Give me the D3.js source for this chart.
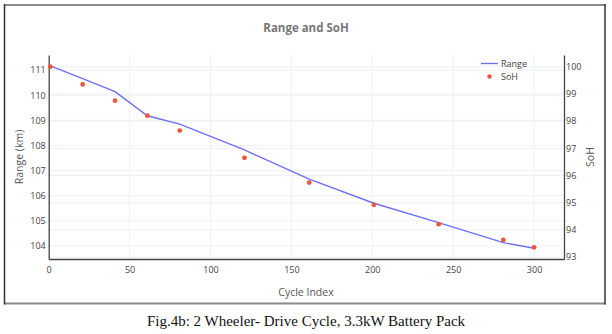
<!DOCTYPE html>
<html>
<head>
<meta charset="utf-8">
<script src="https://cdn.jsdelivr.net/npm/d3@7"></script>
<style>
  body { margin: 0; background: #fff; }
  svg { display: block; }
</style>
</head>
<body>
<svg id="chart"></svg>
<script>
// values
const cycles = [1, 21, 41, 61, 81, 121, 161, 201, 241, 281, 300];
const range_km = [111.17, 110.66, 110.14, 109.18, 108.85, 107.82, 106.66, 105.70, 104.93, 104.13, 103.91];
const soh = [100.0, 99.35, 98.75, 98.2, 97.65, 96.65, 95.74, 94.92, 94.21, 93.63, 93.36];
const x_ticks = [0, 50, 100, 150, 200, 250, 300];
const range_ticks = [104, 105, 106, 107, 108, 109, 110, 111];
const soh_ticks = [93, 94, 95, 96, 97, 98, 99, 100];

const width = 612;
const height = 334;
const plot = {left: 48.7, right: 564, top: 55, bottom: 259};
const line_color = "#6e70f2";
const dot_color = "#ef553b";
const grid_color = "#eef0f6";
const font = "'Open Sans', sans-serif";

var svg = d3.select("#chart")
    .attr("width", width)
    .attr("height", height);

var x = d3.scaleLinear().domain([0, 318.5]).range([plot.left, plot.right]);
var y_left = d3.scaleLinear().domain([103.48, 111.6]).range([plot.bottom, plot.top]);
var y_right = d3.scaleLinear().domain([92.93, 100.43]).range([plot.bottom, plot.top]);

// grid lines
var grid = svg.append("g");
grid.selectAll(".gx")
    .data(x_ticks.slice(1))
    .enter().append("line")
    .attr("x1", d => x(d)).attr("x2", d => x(d))
    .attr("y1", plot.top).attr("y2", plot.bottom)
    .attr("stroke", grid_color).attr("stroke-width", 1);
grid.selectAll(".gl")
    .data(range_ticks)
    .enter().append("line")
    .attr("x1", plot.left).attr("x2", plot.right)
    .attr("y1", d => y_left(d)).attr("y2", d => y_left(d))
    .attr("stroke", grid_color).attr("stroke-width", 1);
grid.selectAll(".gr")
    .data(soh_ticks)
    .enter().append("line")
    .attr("x1", plot.left).attr("x2", plot.right)
    .attr("y1", d => y_right(d)).attr("y2", d => y_right(d))
    .attr("stroke", grid_color).attr("stroke-width", 1);

// axes
var xAxis = svg.append("g")
    .attr("transform", `translate(0,${plot.bottom})`)
    .call(d3.axisBottom(x).tickValues(x_ticks).tickSize(0).tickPadding(8));
var leftAxis = svg.append("g")
    .attr("transform", `translate(${plot.left},0)`)
    .call(d3.axisLeft(y_left).tickValues(range_ticks).tickSize(0).tickPadding(3));
var rightAxis = svg.append("g")
    .attr("transform", `translate(${plot.right},0)`)
    .call(d3.axisRight(y_right).tickValues(soh_ticks).tickSize(0).tickPadding(2));

[xAxis, leftAxis, rightAxis].forEach(function(a) {
    a.select(".domain").attr("stroke", "#444").attr("stroke-width", 1.3);
    a.selectAll("text")
        .attr("font-family", font)
        .attr("font-size", 9)
        .attr("fill", "#444");
});

// range line
var line = d3.line()
    .x((d, i) => x(cycles[i]))
    .y(d => y_left(d));
svg.append("path")
    .datum(range_km)
    .attr("d", line)
    .attr("fill", "none")
    .attr("stroke", line_color)
    .attr("stroke-width", 1.4);

// SoH markers
svg.selectAll(".dot")
    .data(soh)
    .enter().append("circle")
    .attr("cx", (d, i) => x(cycles[i]))
    .attr("cy", d => y_right(d))
    .attr("r", 2.4)
    .attr("fill", dot_color);

// title
svg.append("text")
    .attr("x", 306).attr("y", 32)
    .attr("text-anchor", "middle")
    .attr("font-family", font)
    .attr("font-size", 11.5)
    .attr("font-weight", "bold")
    .attr("fill", "#777")
    .text("Range and SoH");

// axis titles
svg.append("text")
    .attr("x", 306).attr("y", 296)
    .attr("text-anchor", "middle")
    .attr("font-family", font)
    .attr("font-size", 10.5)
    .attr("fill", "#555")
    .text("Cycle Index");
svg.append("text")
    .attr("transform", "translate(23,157) rotate(-90)")
    .attr("text-anchor", "middle")
    .attr("font-family", font)
    .attr("font-size", 10.5)
    .attr("fill", "#555")
    .text("Range (km)");
svg.append("text")
    .attr("transform", "translate(594,157) rotate(-90)")
    .attr("text-anchor", "middle")
    .attr("font-family", font)
    .attr("font-size", 10.5)
    .attr("fill", "#555")
    .text("SoH");

// legend
var legend = svg.append("g");
legend.append("line")
    .attr("x1", 481).attr("x2", 498)
    .attr("y1", 63.5).attr("y2", 63.5)
    .attr("stroke", line_color).attr("stroke-width", 1.4);
legend.append("circle")
    .attr("cx", 489.5).attr("cy", 76.5).attr("r", 2.2)
    .attr("fill", dot_color);
legend.selectAll(".lt")
    .data(["Range", "SoH"])
    .enter().append("text")
    .attr("x", 501)
    .attr("y", (d, i) => 66.5 + i * 13)
    .attr("font-family", font)
    .attr("font-size", 9)
    .attr("fill", "#444")
    .text(d => d);

// outer frame
var frame = svg.append("g");
frame.append("line").attr("x1", 4).attr("x2", 605.5).attr("y1", 5).attr("y2", 5)
    .attr("stroke", "#8a8a8a").attr("stroke-width", 2);
frame.append("line").attr("x1", 4).attr("x2", 605.5).attr("y1", 303.5).attr("y2", 303.5)
    .attr("stroke", "#8a8a8a").attr("stroke-width", 2);
frame.append("line").attr("x1", 4.5).attr("x2", 4.5).attr("y1", 4).attr("y2", 304.5)
    .attr("stroke", "#333").attr("stroke-width", 1.5);
frame.append("line").attr("x1", 605).attr("x2", 605).attr("y1", 4).attr("y2", 304.5)
    .attr("stroke", "#333").attr("stroke-width", 1.5);

// caption
svg.append("text")
    .attr("x", 306).attr("y", 326)
    .attr("text-anchor", "middle")
    .attr("font-family", "'Liberation Serif', 'Times New Roman', serif")
    .attr("font-size", 15)
    .attr("fill", "#111")
    .text("Fig.4b: 2 Wheeler- Drive Cycle, 3.3kW Battery Pack");
</script>
</body>
</html>
